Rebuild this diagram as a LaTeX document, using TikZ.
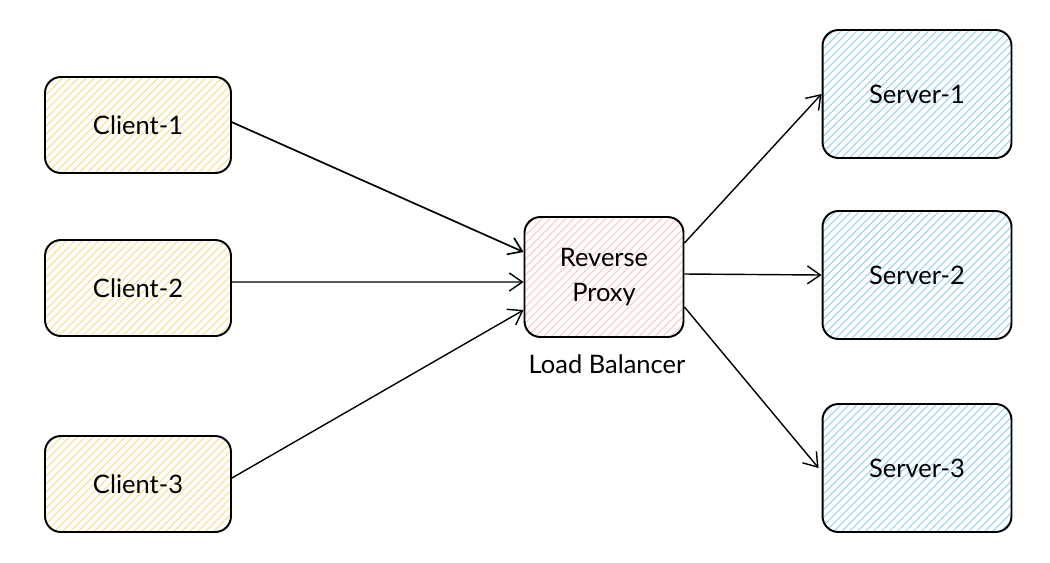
\documentclass[tikz,border=0pt]{standalone}
\usepackage[rgb]{xcolor}
\usepackage{fontspec}
\setmainfont{Lato}
\usepackage{tikz}
\usetikzlibrary{arrows.meta,patterns.meta}

\definecolor{clientyellow}{HTML}{F7DF8E}
\definecolor{proxyred}{HTML}{FFC6C6}
\definecolor{serverblue}{HTML}{98D0F7}

\tikzset{
  box/.style={draw=black, line width=1.1pt, rounded corners=9pt, align=center,
    font=\fontsize{14.5}{20}\selectfont},
  clientbox/.style={box, minimum width=3.72cm, minimum height=1.92cm,
    pattern={Lines[angle=45,distance=3.2pt,line width=0.6pt]}, pattern color=clientyellow},
  proxybox/.style={box, minimum width=3.18cm, minimum height=2.4cm,
    pattern={Lines[angle=45,distance=3.2pt,line width=0.6pt]}, pattern color=proxyred},
  serverbox/.style={box, minimum width=3.78cm, minimum height=2.56cm,
    pattern={Lines[angle=45,distance=3.2pt,line width=0.6pt]}, pattern color=serverblue},
  link/.style={draw=black, line width=0.8pt, -{Straight Barb[length=2.6mm,width=3.6mm]}}
}

\begin{document}
\begin{tikzpicture}[x=0.02cm, y=-0.02cm]

\useasboundingbox (0,0) rectangle (1050,562);

% Clients
\node[clientbox] (client1) at (138,125) {Client-1};
\node[clientbox] (client2) at (138,288) {Client-2};
\node[clientbox] (client3) at (138,484) {Client-3};

% Reverse proxy / load balancer
\node[proxybox] (proxy) at (604,277) {Reverse\\Proxy};
\node[font=\fontsize{14.5}{20}\selectfont] (lblabel) at (607,364) {Load Balancer};

% Servers
\node[serverbox] (server1) at (917,94) {Server-1};
\node[serverbox] (server2) at (917,275) {Server-2};
\node[serverbox] (server3) at (917,468) {Server-3};


% Client to proxy
\draw[link, line width=0.95pt] ([yshift=0.06cm]client1.east) -- ([yshift=0.5cm]proxy.west);
\draw[link] ([yshift=0.12cm]client2.east) -- ([yshift=-0.1cm]proxy.west);
\draw[link] ([yshift=0.12cm]client3.east) -- ([yshift=-0.66cm]proxy.west);

% Proxy to servers
\draw[link] ([yshift=0.68cm]proxy.east) -- (server1.west);
\draw[link] ([yshift=0.06cm]proxy.east) -- (server2.west);
\draw[link] ([yshift=-0.6cm]proxy.east) -- ([xshift=-0.06cm]server3.west);

\end{tikzpicture}
\end{document}
